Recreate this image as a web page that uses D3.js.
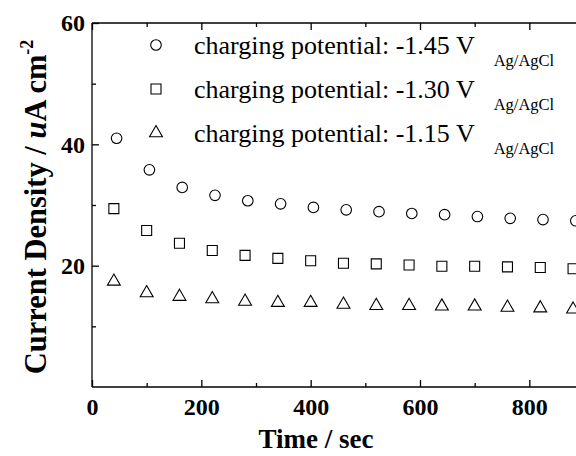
<!DOCTYPE html>
<html><head><meta charset="utf-8">
<script src="https://cdn.jsdelivr.net/npm/d3@7/dist/d3.min.js"></script>
<style>
html,body{margin:0;padding:0;background:#fff;}
svg{display:block;font-family:"Liberation Serif","Times New Roman",serif;}
</style></head>
<body>
<svg id="chart" width="576" height="456"></svg>
<script>
// Data
const timesCircle = [45,105,165,225,285,345,405,465,525,585,645,705,765,825,885];
const timesOther  = [40,100,160,220,280,340,400,460,520,580,640,700,760,820,880];
const seriesNames = ["-1.45", "-1.30", "-1.15"];
const valsCircle   = [41.0,35.8,32.9,31.6,30.7,30.2,29.6,29.2,28.9,28.6,28.4,28.1,27.8,27.6,27.4];
const valsSquare   = [29.4,25.8,23.7,22.5,21.7,21.2,20.8,20.4,20.3,20.1,19.9,19.9,19.8,19.7,19.5];
const valsTriangle = [17.4,15.5,14.9,14.5,14.1,13.9,13.9,13.6,13.4,13.4,13.3,13.3,13.1,13.0,12.8];
const xMajorTicks = [0,200,400,600,800];
const xMinorTicks = [100,300,500,700,900];
const yMajorTicks = [20,40,60];
const yMinorTicks = [10,30,50];

const svg = d3.select("#chart");
const x = d3.scaleLinear().domain([0,900]).range([92,584]);
const y = d3.scaleLinear().domain([0,60]).range([387,23]);

const series = [
  {name: seriesNames[0], t: timesCircle, v: valsCircle, sym: d3.symbolCircle, size: 88},
  {name: seriesNames[1], t: timesOther, v: valsSquare, sym: d3.symbolSquare, size: 100},
  {name: seriesNames[2], t: timesOther, v: valsTriangle, sym: d3.symbolTriangle, size: 72}
];

// Frame (left, bottom, top)
const g = svg.append("g");
g.append("line").attr("x1",x(0)).attr("x2",x(0)).attr("y1",y(0)).attr("y2",y(60)).attr("stroke","#000").attr("stroke-width",1.3);
g.append("line").attr("x1",x(0)).attr("x2",590).attr("y1",y(0)).attr("y2",y(0)).attr("stroke","#000").attr("stroke-width",1.3);
g.append("line").attr("x1",x(0)).attr("x2",590).attr("y1",y(60)).attr("y2",y(60)).attr("stroke","#000").attr("stroke-width",1.3);

// Bottom axis via d3.axisBottom with inward ticks
const xAxis = d3.axisBottom(x).tickValues(xMajorTicks).tickSize(-7).tickPadding(11).tickFormat(d3.format("d"));
const gx = svg.append("g").attr("transform",`translate(0,${y(0)})`).call(xAxis);
gx.select(".domain").remove();
gx.selectAll(".tick line").attr("stroke","#000").attr("stroke-width",1.3);
gx.selectAll(".tick text").attr("font-family","Liberation Serif").attr("font-weight","bold").attr("font-size",24).attr("fill","#000").attr("dy","0.71em");
const gxm = svg.append("g").attr("transform",`translate(0,${y(0)})`).call(d3.axisBottom(x).tickValues(xMinorTicks).tickSize(-4).tickFormat(""));
gxm.select(".domain").remove();
gxm.selectAll(".tick line").attr("stroke","#000").attr("stroke-width",1.3);

// Top axis ticks (inward)
const gt = svg.append("g").attr("transform",`translate(0,${y(60)})`).call(d3.axisTop(x).tickValues(xMajorTicks).tickSize(-7).tickFormat(""));
gt.select(".domain").remove();
gt.selectAll(".tick line").attr("stroke","#000").attr("stroke-width",1.3);
const gtm = svg.append("g").attr("transform",`translate(0,${y(60)})`).call(d3.axisTop(x).tickValues(xMinorTicks).tickSize(-4).tickFormat(""));
gtm.select(".domain").remove();
gtm.selectAll(".tick line").attr("stroke","#000").attr("stroke-width",1.3);

// Left axis
const gy = svg.append("g").attr("transform",`translate(${x(0)},0)`).call(d3.axisLeft(y).tickValues(yMajorTicks).tickSize(-7).tickPadding(7).tickFormat(d3.format("d")));
gy.select(".domain").remove();
gy.selectAll(".tick line").attr("stroke","#000").attr("stroke-width",1.3);
gy.selectAll(".tick text").attr("font-family","Liberation Serif").attr("font-weight","bold").attr("font-size",24).attr("fill","#000");
const gym = svg.append("g").attr("transform",`translate(${x(0)},0)`).call(d3.axisLeft(y).tickValues(yMinorTicks).tickSize(-4).tickFormat(""));
gym.select(".domain").remove();
gym.selectAll(".tick line").attr("stroke","#000").attr("stroke-width",1.3);

// Points
series.forEach(s => {
  const pts = s.t.map((t,i) => [t, s.v[i]]);
  svg.append("g").selectAll("path").data(pts).join("path")
    .attr("d", d3.symbol().type(s.sym).size(s.size))
    .attr("transform", d => `translate(${x(d[0])},${y(d[1])})`)
    .attr("fill","none").attr("stroke","#000").attr("stroke-width",1.1);
});

// Legend
const legY = [45, 89, 133];
series.forEach((s,i) => {
  svg.append("path").attr("d", d3.symbol().type(s.sym).size(s.size)())
    .attr("transform",`translate(156,${legY[i]})`)
    .attr("fill","none").attr("stroke","#000").attr("stroke-width",1.1);
  const t = svg.append("text").attr("x",194).attr("y",legY[i]+9)
    .attr("font-size",26).attr("fill","#000");
  t.append("tspan").text(`charging potential: ${s.name} V`);
  t.append("tspan").attr("dx",19).attr("dy",12).attr("font-size",16.5).text("Ag/AgCl");
});

// Axis titles
svg.append("text").attr("x", 316).attr("y", 448).attr("text-anchor","middle")
  .attr("font-size",27).attr("font-weight","bold").text("Time / sec");

const yl = svg.append("text").attr("transform","translate(46,207) rotate(-90)")
  .attr("text-anchor","middle").attr("font-size",30.5).attr("font-weight","bold");
yl.append("tspan").text("Current Density / ");
yl.append("tspan").attr("font-style","italic").text("u");
yl.append("tspan").text("A cm");
yl.append("tspan").attr("dy",-13).attr("font-size",18).text("-2");
</script>
</body></html>
